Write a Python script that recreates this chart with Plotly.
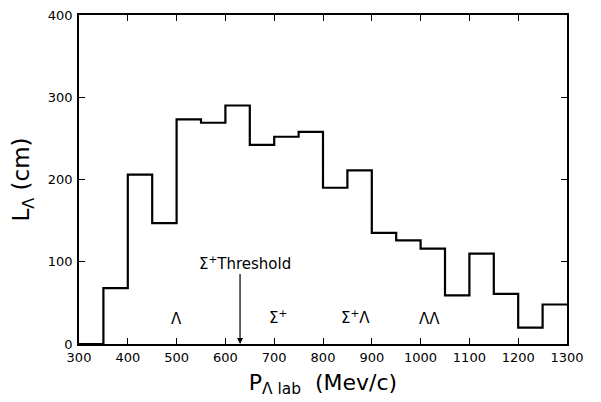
import plotly.graph_objects as go

# bin edges (MeV/c) and L_Lambda values (cm)
bin_left = [300, 350, 400, 450, 500, 550, 600, 650, 700, 750, 800, 850, 900, 950,
            1000, 1050, 1100, 1150, 1200, 1250]
bin_right_end = 1300
L_values = [0, 68, 206, 147, 273, 269, 290, 242, 252, 258, 190, 211, 135, 126,
            116, 59, 110, 61, 20, 48]

x_ticks = [300, 400, 500, 600, 700, 800, 900, 1000, 1100, 1200, 1300]
y_ticks = [0, 100, 200, 300, 400]

threshold_x = 630
labels = [("Λ", 500, 31), ("Σ<sup>+</sup>", 708, 33), ("Σ<sup>+</sup>Λ", 866, 33), ("ΛΛ", 1019, 31)]

xs = bin_left + [bin_right_end]
ys = L_values + [L_values[-1]]

FONT = "DejaVu Sans"

fig = go.Figure()
fig.add_trace(go.Scatter(x=xs, y=ys, mode="lines", line=dict(shape="hv", color="black", width=2.2),
                         showlegend=False, hoverinfo="skip"))

axis_common = dict(showline=True, linecolor="black", linewidth=1.6, mirror="ticks",
                   ticks="inside", ticklen=6, tickwidth=1.2, tickcolor="black",
                   showgrid=False, zeroline=False, automargin=False,
                   ticklabeloverflow="allow",
                   tickfont=dict(family=FONT, size=13, color="black"))

fig.update_xaxes(range=[300, 1300], tickvals=x_ticks, ticktext=[str(v) for v in x_ticks],
                 title=dict(text="P<sub>Λ lab</sub>  (Mev/c)", font=dict(family=FONT, size=22, color="black"),
                            standoff=10),
                 ticklabelstandoff=1,
                 **axis_common)
fig.update_yaxes(range=[0, 400], tickvals=y_ticks, ticktext=[str(v) for v in y_ticks],
                 title=dict(text="L<sub>Λ</sub> (cm)", font=dict(family=FONT, size=23, color="black"),
                            standoff=14),
                 ticklabelstandoff=2,
                 **axis_common)

annotations = []
for txt, x, y in labels:
    annotations.append(dict(x=x, y=y, xref="x", yref="y", text=txt, showarrow=False,
                            font=dict(family=FONT, size=15, color="black")))
annotations.append(dict(x=threshold_x, y=0, xref="x", yref="y", ax=threshold_x, ay=87,
                        axref="x", ayref="y", text="", showarrow=True, arrowhead=2,
                        arrowsize=1, arrowwidth=1.2, arrowcolor="black"))
annotations.append(dict(x=641, y=99, xref="x", yref="y", text="Σ<sup>+</sup>Threshold",
                        showarrow=False, font=dict(family=FONT, size=15, color="black")))

fig.update_layout(width=601, height=402, margin=dict(l=71, r=42, t=7, b=66),
                  paper_bgcolor="white", plot_bgcolor="white", annotations=annotations)

fig.write_html("out.html")
